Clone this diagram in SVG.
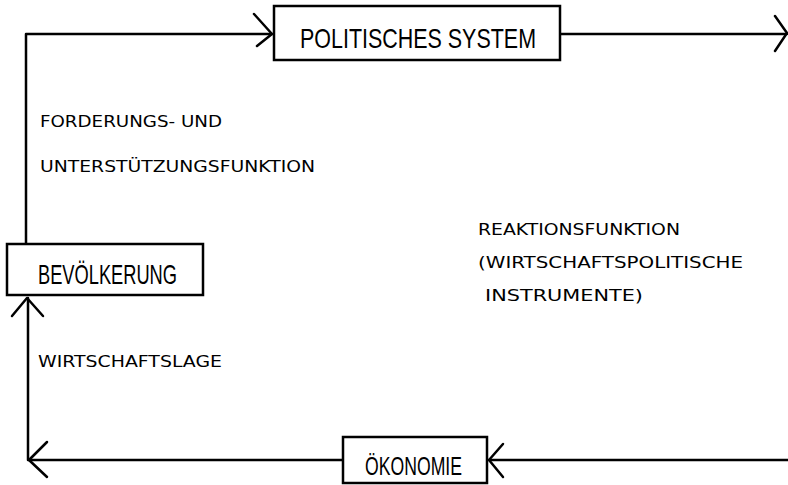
<svg xmlns="http://www.w3.org/2000/svg" width="788" height="485" viewBox="0 0 788 485">
<style>
.box{fill:#fff;stroke:#000;stroke-width:2.5}
.ln{fill:none;stroke:#000;stroke-width:2.5;stroke-linecap:round;stroke-linejoin:round}
.big{font-family:"Liberation Sans","DejaVu Sans",sans-serif;fill:#000}
.sm{font-family:"DejaVu Sans","Liberation Sans",sans-serif;font-size:15.5px;fill:#000}
</style>
<g id="connectors">
<path class="ln" d="M26,245 V34 H272"/>
<path class="ln" d="M254,14 L272,34 L257,46"/>
<path class="ln" d="M560,34 H787"/>
<path class="ln" d="M775,16 L787,33 L775,51"/>
<path class="ln" d="M343,460 H28 V298"/>
<path class="ln" d="M47,442 L29,460 L47,477"/>
<path class="ln" d="M12,316 L27,298 L43,316"/>
<path class="ln" d="M788,460 H489"/>
<path class="ln" d="M503,444 L489,460 L503,477"/>
</g>
<g id="politisches-system">
<rect class="box" x="274" y="6" width="286" height="54"/>
<text class="big" x="300" y="48" font-size="28" textLength="236" lengthAdjust="spacingAndGlyphs">POLITISCHES SYSTEM</text>
</g>
<g id="bevoelkerung">
<rect class="box" x="7" y="244" width="196" height="51"/>
<text class="big" x="38" y="284" font-size="28" textLength="139" lengthAdjust="spacingAndGlyphs">BEVÖLKERUNG</text>
</g>
<g id="oekonomie">
<rect class="box" x="343" y="437" width="144" height="46"/>
<text class="big" x="365" y="475" font-size="25" textLength="97" lengthAdjust="spacingAndGlyphs">ÖKONOMIE</text>
</g>
<g id="labels">
<text class="sm" x="40" y="127" textLength="182" lengthAdjust="spacingAndGlyphs">FORDERUNGS- UND</text>
<text class="sm" x="40" y="172" textLength="275" lengthAdjust="spacingAndGlyphs">UNTERSTÜTZUNGSFUNKTION</text>
<text class="sm" x="478" y="235" textLength="202" lengthAdjust="spacingAndGlyphs">REAKTIONSFUNKTION</text>
<text class="sm" x="478" y="268" textLength="265" lengthAdjust="spacingAndGlyphs">(WIRTSCHAFTSPOLITISCHE</text>
<text class="sm" x="485" y="301" textLength="158" lengthAdjust="spacingAndGlyphs">INSTRUMENTE)</text>
<text class="sm" x="38" y="367" textLength="184" lengthAdjust="spacingAndGlyphs">WIRTSCHAFTSLAGE</text>
</g>
</svg>
